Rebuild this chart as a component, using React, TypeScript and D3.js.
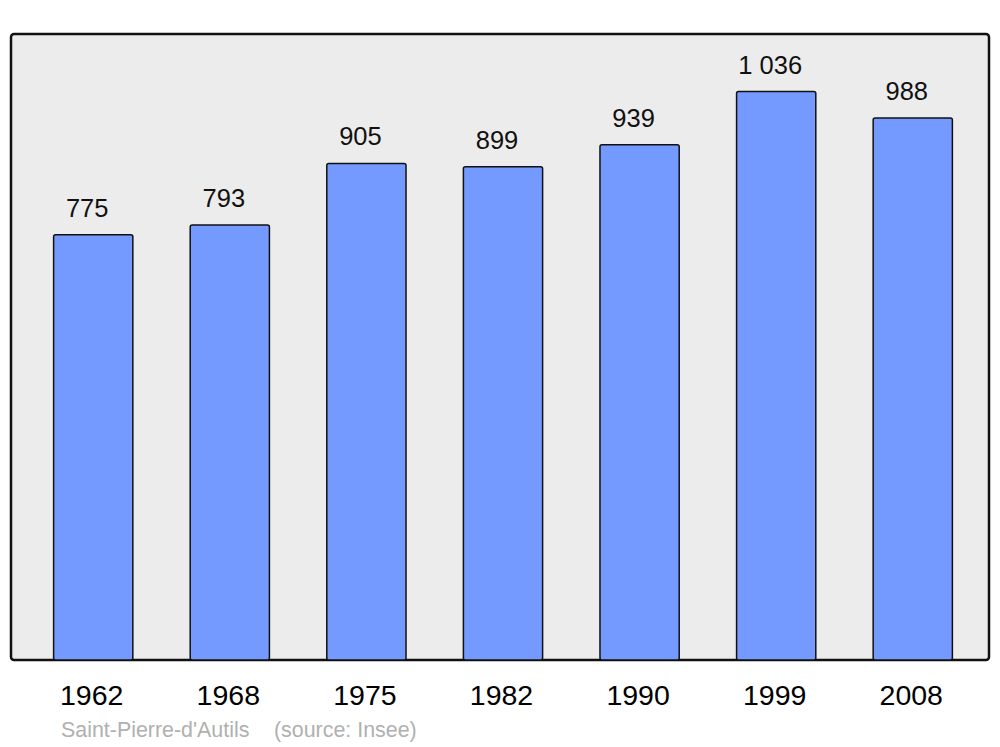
import React from "react";
import * as d3 from "d3";

const years = ["1962", "1968", "1975", "1982", "1990", "1999", "2008"];
const population = [775, 793, 905, 899, 939, 1036, 988];
const valueLabels = ["775", "793", "905", "899", "939", "1 036", "988"];
const commune = "Saint-Pierre-d'Autils";
const source = "(source: Insee)";

export default function App() {
  const W = 1000, H = 747;
  const left = 11, right = 989, top = 34, bottom = 660;
  const x = d3.scaleBand<string>().domain(years).range([left + 3, right + 3]).paddingInner(0.42).paddingOuter(0.29);
  const y = d3.scaleLinear().domain([0, 1141]).range([bottom, top]);
  const font = "'Liberation Sans', Arial, sans-serif";
  return (
    <svg width={W} height={H} style={{ position: "absolute", left: 0, top: 0 }} fontFamily={font}>
      <rect x={0} y={0} width={W} height={H} fill="#fff" />
      <rect x={left} y={top} width={right - left} height={bottom - top} rx={3} fill="#ececec" stroke="#111" strokeWidth={2.5} />
      {years.map((yr, i) => {
        const bx = x(yr)!;
        const bw = x.bandwidth();
        const by = y(population[i]);
        return (
          <g key={yr}>
            <rect x={bx} y={by} width={bw} height={bottom - by} rx={2} fill="#7499ff" stroke="#111" strokeWidth={1.5} />
            <text x={bx + bw / 2 - 6} y={by - 18} textAnchor="middle" fontSize={25.5} fill="#111">{valueLabels[i]}</text>
            <text x={bx + bw / 2 - 1.5} y={705} textAnchor="middle" fontSize={28.5} fill="#000">{yr}</text>
          </g>
        );
      })}
      <text x={61} y={737} fontSize={21.4} fill="#b0b0b0">{commune}</text>
      <text x={274} y={737} fontSize={21.4} fill="#b0b0b0">{source}</text>
    </svg>
  );
}
